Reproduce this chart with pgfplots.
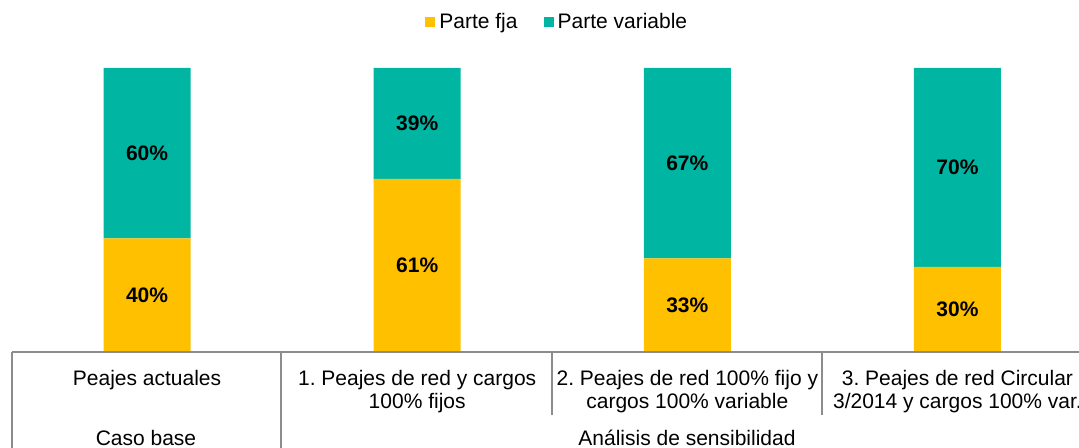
\documentclass[border=0pt]{standalone}
\usepackage{pgfplots}
\pgfplotsset{compat=1.18}
\usepackage{fontspec}
\setmainfont{Liberation Sans}
\definecolor{fija}{HTML}{FFC000}
\definecolor{vari}{HTML}{00B6A3}
\definecolor{linegray}{HTML}{8C8C8C}
\begin{document}
\frenchspacing
\begin{tikzpicture}[font=\fontsize{10.5}{11.5}\selectfont]
\useasboundingbox (0,0) rectangle (539.5pt,224pt);
\clip (0,0) rectangle (539.5pt,224pt);
\pgfplotsset{
  base/.style={
    scale only axis, width=540.25pt, height=142pt,
    at={(6pt,48pt)}, anchor=south west,
    xmin=-0.5, xmax=3.5, ymin=0, ymax=100,
    axis line style={draw=none}, ytick=\empty,
    major tick length=0pt, clip=false,
    /pgf/number format/assume math mode=true,
  }
}
\begin{axis}[base,
  ybar stacked, bar width=43.5pt,
  xtick={0,1,2,3},
  xticklabels={{Peajes actuales},{1. Peajes de red y cargos\\100\% fijos},{2. Peajes de red 100\% fijo y\\cargos 100\% variable},{3. Peajes de red Circular\\3/2014 y cargos 100\% var.}},
  xticklabel style={align=center, anchor=north, yshift=-5.5pt, font=\fontsize{10.5}{11.5}\selectfont},
  legend columns=2,
  legend style={at={(0.5,1)}, anchor=center, xshift=3pt, yshift=23pt, draw=none, fill=none,
    font=\fontsize{10.5}{12}\selectfont,
    /tikz/every even column/.append style={column sep=11pt}},
  legend image code/.code={\fill[#1] (0pt,-2.6pt) rectangle (5pt,2.6pt);},
]
\addplot[fill=fija, draw=none] coordinates {(0,40) (1,61) (2,33) (3,30)};
\addplot[fill=vari, draw=none] coordinates {(0,60) (1,39) (2,67) (3,70)};
\legend{Parte fja, Parte variable}
\end{axis}
\begin{axis}[base, xtick=\empty]
\addplot[draw=none, mark=none, point meta=explicit,
  nodes near coords={\pgfmathprintnumber{\pgfplotspointmeta}\%},
  nodes near coords style={anchor=center, font=\fontsize{10.5}{12}\selectfont\bfseries}]
  table[x=x, y=y, meta=v] {
x y v
0 20 40
1 30.5 61
2 16.5 33
3 15 30
};
\addplot[draw=none, mark=none, point meta=explicit,
  nodes near coords={\pgfmathprintnumber{\pgfplotspointmeta}\%},
  nodes near coords style={anchor=center, font=\fontsize{10.5}{12}\selectfont\bfseries}]
  table[x=x, y=y, meta=v] {
x y v
0 70 60
1 80.5 39
2 66.5 67
3 65 70
};
\end{axis}
\begin{scope}[x=0.5pt, y=-0.5pt, shift={(0pt,224pt)}]
\draw[linegray, line width=0.8pt] (12,352) -- (1079,352);
\draw[linegray, line width=0.8pt] (12,352) -- (12,448);
\draw[linegray, line width=0.8pt] (281,352) -- (281,448);
\draw[linegray, line width=0.8pt] (552,352) -- (552,415);
\draw[linegray, line width=0.8pt] (822,352) -- (822,415);
\node at (146,438) {Caso base};
\node at (687,438) {Análisis de sensibilidad};
\end{scope}
\end{tikzpicture}
\end{document}
